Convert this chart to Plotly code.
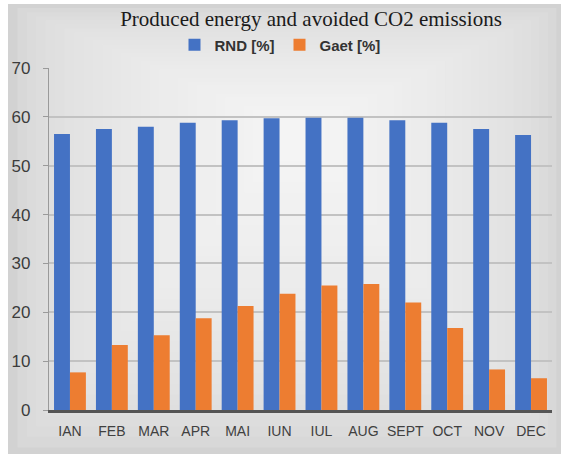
import plotly.graph_objects as go

months = ["IAN", "FEB", "MAR", "APR", "MAI", "IUN", "IUL", "AUG", "SEPT", "OCT", "NOV", "DEC"]
rnd_pct = [56.5, 57.5, 58.0, 58.8, 59.3, 59.7, 59.8, 59.8, 59.3, 58.8, 57.5, 56.3]
gaet_pct = [7.7, 13.3, 15.3, 18.8, 21.3, 23.8, 25.5, 25.8, 22.0, 16.8, 8.3, 6.5]
y_ticks = [0, 10, 20, 30, 40, 50, 60, 70]

W, H = 561, 454
M_L, M_R, M_T, M_B = 49, 9, 68, 44
PW, PH = W - M_L - M_R, H - M_T - M_B


def px_to_paper(x, y):
    return (x - M_L) / PW, (H - M_B - y) / PH


def mix(c0, c1, t):
    return "rgb({},{},{})".format(*[round(a + (b - a) * t) for a, b in zip(c0, c1)])


def px_rect(x0, y0, x1, y1, color):
    a0, b1 = px_to_paper(x0, y0)
    a1, b0 = px_to_paper(x1, y1)
    return dict(type="rect", xref="paper", yref="paper",
                x0=a0, x1=a1, y0=b0, y1=b1,
                fillcolor=color, line=dict(width=0), layer="below")


# soft grey backdrop, lighter toward the upper centre
edge_c, mid_c = (210, 210, 210), (245, 245, 245)
shapes = []
outer = (8, 4, W + 4, H + 4)
centre = (300, 130)
steps = 30
for i in range(steps):
    t = i / steps
    k = t * 0.97
    shapes.append(px_rect(outer[0] + (centre[0] - outer[0]) * k,
                          outer[1] + (centre[1] - outer[1]) * k,
                          outer[2] + (centre[0] - outer[2]) * k,
                          outer[3] + (centre[1] - outer[3]) * k,
                          mix(edge_c, mid_c, t ** 0.5)))
# white page strips on the left and top
shapes.append(px_rect(-5, -5, 8, H + 5, "white"))
shapes.append(px_rect(-5, -5, W + 5, 4, "white"))

fig = go.Figure()
fig.add_bar(x=months, y=rnd_pct, name="RND [%]", marker_color="#4472C4",
            marker_line_width=0)
fig.add_bar(x=months, y=gaet_pct, name="Gaet [%]", marker_color="#ED7D31",
            marker_line_width=0)

fig.update_layout(
    width=W, height=H,
    margin=dict(l=M_L, r=M_R, t=M_T, b=M_B),
    paper_bgcolor="rgb(210,210,210)",
    plot_bgcolor="rgba(0,0,0,0)",
    shapes=shapes,
    barmode="group",
    bargap=0.24,
    bargroupgap=0.0,
    title=dict(text="Produced energy and avoided CO2 emissions",
               x=311 / W, xanchor="center", y=1 - 19 / H, yanchor="middle",
               font=dict(family="Liberation Serif, Times New Roman, serif",
                         size=21, color="#1a1a1a")),
    legend=dict(orientation="h", x=(280 - M_L) / PW, xanchor="center",
                y=1 + (M_T - 45) / PH, yanchor="middle",
                font=dict(family="Liberation Sans, Arial, sans-serif",
                          size=15, color="#333333", weight="bold"),
                itemwidth=30, bgcolor="rgba(0,0,0,0)", traceorder="normal"),
    showlegend=True,
)

fig.update_yaxes(range=[0, 70], tickvals=y_ticks, showgrid=True,
                 gridcolor="#c2c2c2", gridwidth=1.5,
                 showline=True, linecolor="#9a9a9a", linewidth=1.2,
                 ticks="outside", ticklen=5, tickcolor="#9a9a9a",
                 ticklabelstandoff=9,
                 tickfont=dict(family="Liberation Sans, Arial, sans-serif",
                               size=17, color="#3c3c3c"),
                 zeroline=False)
fig.update_xaxes(showline=True, linecolor="#555555", linewidth=2.5,
                 ticks="", showgrid=False, ticklabelstandoff=6,
                 tickfont=dict(family="Liberation Sans Narrow, Arial Narrow, Liberation Sans, sans-serif",
                               size=14, color="#404040"))

fig.write_html("out.html")
